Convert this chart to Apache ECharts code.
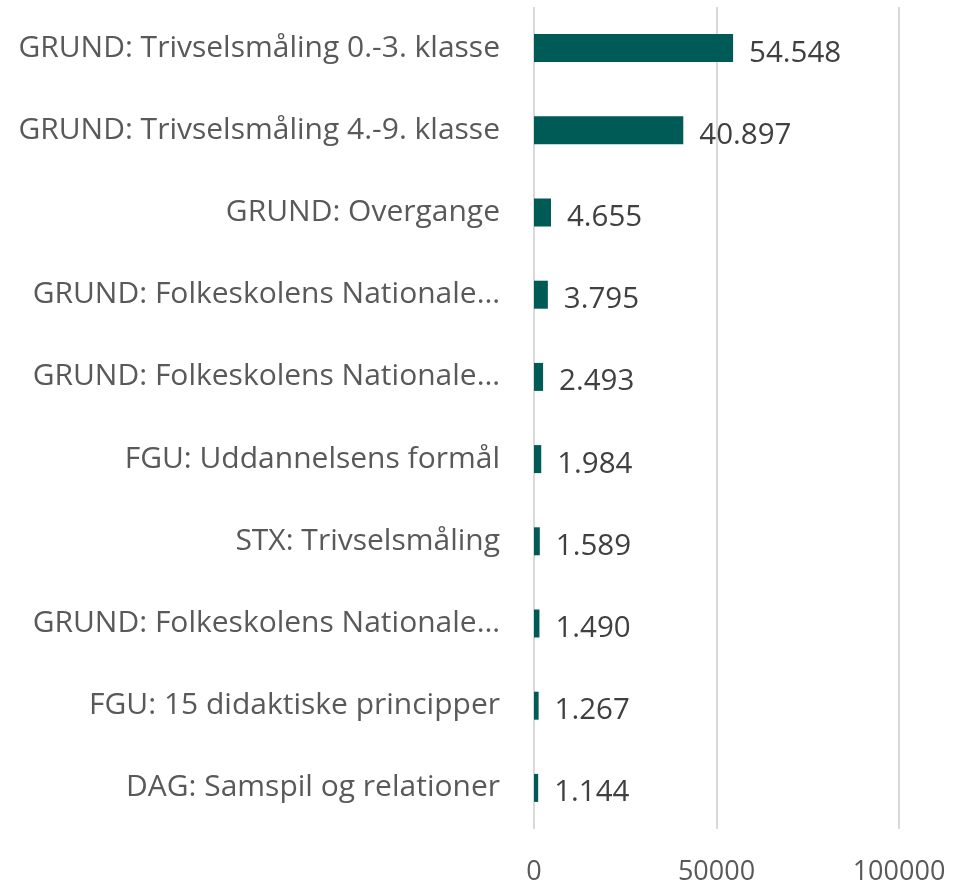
<!DOCTYPE html>
<html>
<head>
<meta charset="utf-8">
<script src="https://cdn.jsdelivr.net/npm/echarts@6/dist/echarts.min.js"></script>
<style>
  html, body { margin: 0; padding: 0; background: #fff; }
  #chart { width: 955px; height: 889px; }
</style>
</head>
<body>
<div id="chart"></div>
<script>
// data
var categories = [
  'GRUND: Trivselsmåling 0.-3. klasse',
  'GRUND: Trivselsmåling 4.-9. klasse',
  'GRUND: Overgange',
  'GRUND: Folkeskolens Nationale…',
  'GRUND: Folkeskolens Nationale…',
  'FGU: Uddannelsens formål',
  'STX: Trivselsmåling',
  'GRUND: Folkeskolens Nationale…',
  'FGU: 15 didaktiske principper',
  'DAG: Samspil og relationer'
];
var values = [54548, 40897, 4655, 3795, 2493, 1984, 1589, 1490, 1267, 1144];
var xTicks = [0, 50000, 100000];

var fontFam = '"Segoe UI", "Open Sans", "Noto Sans", sans-serif';

// danish thousand separator
function fmt(v) {
  return String(v).replace(/\B(?=(\d{3})+(?!\d))/g, '.');
}

var myChart = echarts.init(document.getElementById('chart'));
myChart.setOption({
  animation: false,
  grid: {
    left: 534,
    right: 56,
    top: 7,
    bottom: 60,
    containLabel: false
  },
  xAxis: {
    type: 'value',
    min: xTicks[0],
    max: xTicks[xTicks.length - 1],
    interval: 50000,
    axisLine: { show: false },
    axisTick: { show: false },
    splitLine: { show: true, lineStyle: { color: '#d9d9d9', width: 2 } },
    axisLabel: {
      color: '#595959',
      fontSize: 27,
      fontFamily: fontFam,
      margin: 30,
      formatter: function (v) { return String(v); }
    }
  },
  yAxis: {
    type: 'category',
    inverse: true,
    data: categories,
    axisLine: { show: false },
    axisTick: { show: false },
    axisLabel: {
      color: '#595959',
      fontSize: 30,
      fontFamily: fontFam,
      margin: 34
    }
  },
  series: [{
    type: 'bar',
    data: values,
    barWidth: 28,
    itemStyle: { color: '#005b57' },
    label: {
      show: true,
      position: 'right',
      distance: 16,
      offset: [0, 5],
      color: '#404040',
      fontSize: 29.5,
      fontFamily: fontFam,
      formatter: function (p) { return fmt(p.value); }
    }
  }]
});
</script>
</body>
</html>
